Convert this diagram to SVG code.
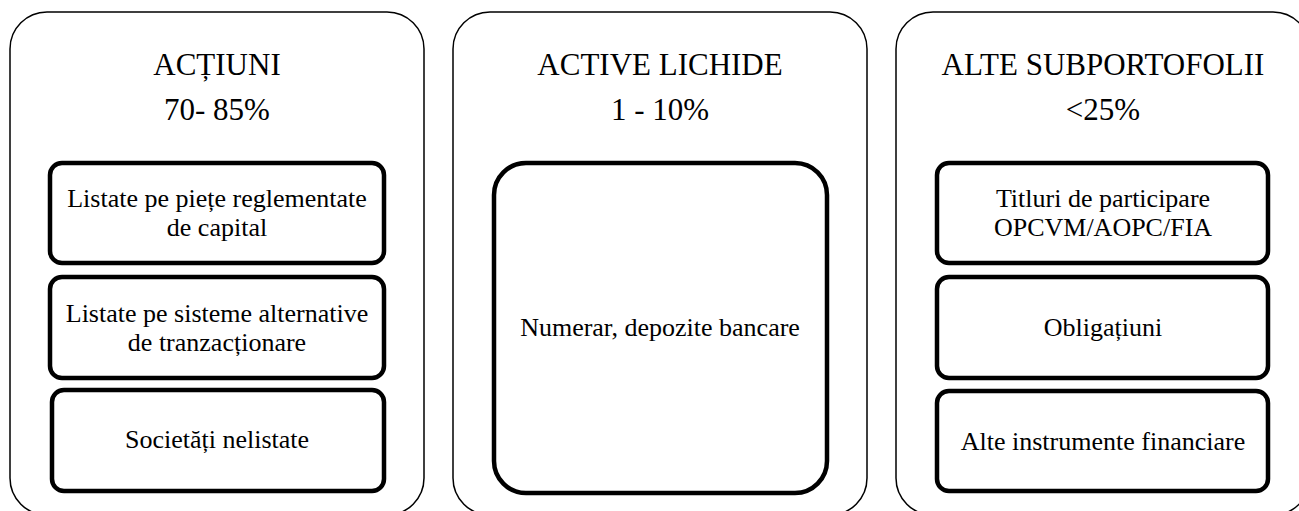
<svg xmlns="http://www.w3.org/2000/svg" width="1299" height="511" viewBox="0 0 1299 511">
<style>
.outer{fill:#fff;stroke:#000;stroke-width:1.5}
.inner{fill:#fff;stroke:#000;stroke-width:4.5}
text{font-family:"Liberation Serif","Times New Roman",serif;fill:#000;text-anchor:middle}
.t{font-size:31px}
.b{font-size:26px}
</style>
<rect width="1299" height="511" fill="#fff"/>
<g id="col-actiuni">
<rect class="outer" x="10" y="12" width="414" height="503" rx="37"/>
<text class="t" x="217" y="75">ACȚIUNI</text>
<text class="t" x="217" y="120">70- 85%</text>
</g>
<g id="n-listate-reglementate">
<rect class="inner" x="50" y="163" width="334" height="100" rx="12"/>
<text class="b" x="217" y="207">Listate pe piețe reglementate</text>
<text class="b" x="217" y="236">de capital</text>
</g>
<g id="n-listate-alternative">
<rect class="inner" x="50" y="277" width="334" height="101" rx="12"/>
<text class="b" x="217" y="322">Listate pe sisteme alternative</text>
<text class="b" x="217" y="351">de tranzacționare</text>
</g>
<g id="n-nelistate">
<rect class="inner" x="52" y="390" width="332" height="101" rx="12"/>
<text class="b" x="217" y="448">Societăți nelistate</text>
</g>
<g id="col-active-lichide">
<rect class="outer" x="453" y="12" width="414" height="503" rx="37"/>
<text class="t" x="660" y="75">ACTIVE LICHIDE</text>
<text class="t" x="660" y="120">1 - 10%</text>
</g>
<g id="n-numerar">
<rect class="inner" x="494" y="163" width="333" height="330" rx="32"/>
<text class="b" x="660" y="336">Numerar, depozite bancare</text>
</g>
<g id="col-alte">
<rect class="outer" x="896" y="12" width="414" height="503" rx="37"/>
<text class="t" x="1103" y="75">ALTE SUBPORTOFOLII</text>
<text class="t" x="1103" y="120">&lt;25%</text>
</g>
<g id="n-titluri">
<rect class="inner" x="937" y="163" width="331" height="100" rx="12"/>
<text class="b" x="1103" y="207">Titluri de participare</text>
<text class="b" x="1103" y="236">OPCVM/AOPC/FIA</text>
</g>
<g id="n-obligatiuni">
<rect class="inner" x="937" y="277" width="331" height="101" rx="12"/>
<text class="b" x="1103" y="336">Obligațiuni</text>
</g>
<g id="n-alte-instrumente">
<rect class="inner" x="937" y="391" width="331" height="100" rx="12"/>
<text class="b" x="1103" y="450">Alte instrumente financiare</text>
</g>
<g id="connectors"/>
</svg>
